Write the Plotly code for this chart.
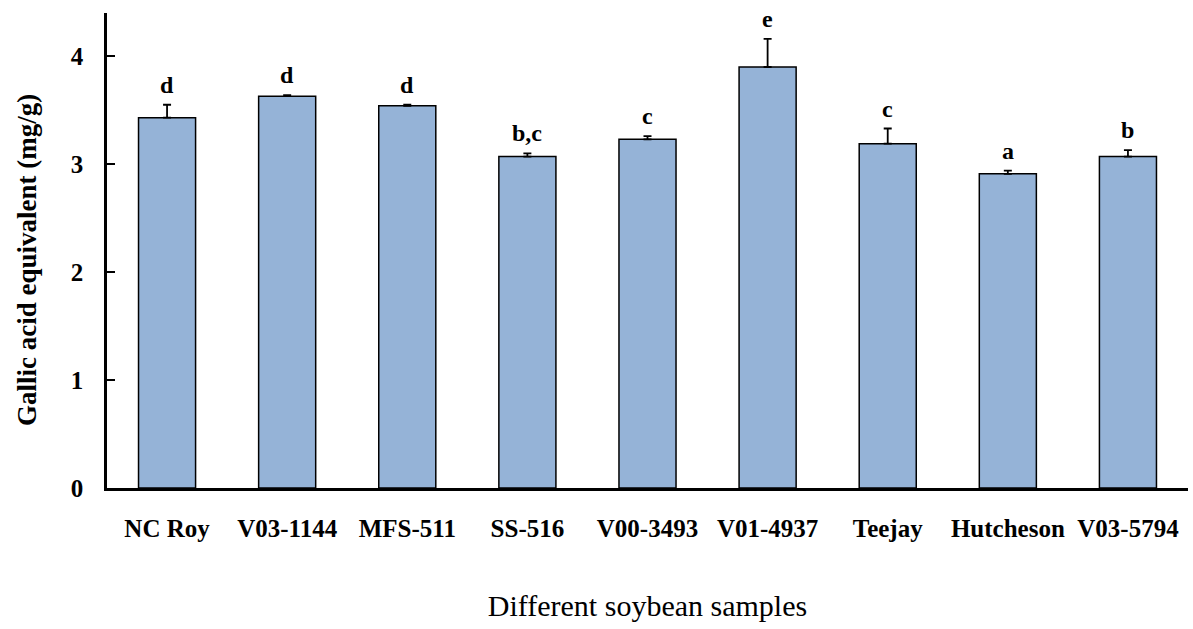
import plotly.graph_objects as go

samples = ["NC Roy", "V03-1144", "MFS-511", "SS-516", "V00-3493", "V01-4937", "Teejay", "Hutcheson", "V03-5794"]
values = [3.43, 3.63, 3.54, 3.07, 3.23, 3.90, 3.19, 2.91, 3.07]
errors = [0.12, 0.01, 0.01, 0.03, 0.03, 0.26, 0.14, 0.03, 0.06]
letters = ["d", "d", "d", "b,c", "c", "e", "c", "a", "b"]
y_ticks = [0, 1, 2, 3, 4]

FONT = "Liberation Serif"

fig = go.Figure()
fig.add_trace(go.Bar(
    x=samples, y=values, width=0.475,
    marker=dict(color="#95B3D7", line=dict(color="black", width=1.5)),
    error_y=dict(type="data", array=errors, arrayminus=[0]*len(errors), symmetric=False,
                 color="black", thickness=1.8, width=4),
))

for s, v, e, l in zip(samples, values, errors, letters):
    fig.add_annotation(x=s, y=v + e, text="<b>%s</b>" % l, showarrow=False,
                       yanchor="bottom", yshift=5,
                       font=dict(family=FONT, size=24, color="black"))

# y-axis title as rotated annotation for exact placement
fig.add_annotation(xref="paper", yref="paper", x=-0.074, y=0.48, xanchor="center", yanchor="middle",
                   text="<b>Gallic acid equivalent (mg/g)</b>", textangle=-90, showarrow=False,
                   font=dict(family=FONT, size=27, color="black"))

fig.update_layout(
    width=1193, height=629,
    margin=dict(l=107, r=5, t=13, b=141),
    plot_bgcolor="white", paper_bgcolor="white",
    showlegend=False,
    font=dict(family=FONT, color="black"),
    xaxis=dict(
        showline=True, linecolor="black", linewidth=2.5,
        ticks="", tickfont=dict(family=FONT, size=25, color="black"),
        tickprefix="<b>", ticksuffix="</b>", ticklabelstandoff=16,
        title=dict(text="Different soybean samples", font=dict(family=FONT, size=30, color="black"), standoff=55),
        showgrid=False,
    ),
    yaxis=dict(
        range=[0, 4.4], tickvals=y_ticks, ticktext=["<b>%d</b>" % t for t in y_ticks],
        showline=True, linecolor="black", linewidth=2.5,
        ticks="inside", ticklen=8, tickwidth=2, tickcolor="black",
        tickfont=dict(family=FONT, size=25, color="black"), ticklabelstandoff=16,
        showgrid=False, zeroline=False,
    ),
)

fig.write_html("out.html")
